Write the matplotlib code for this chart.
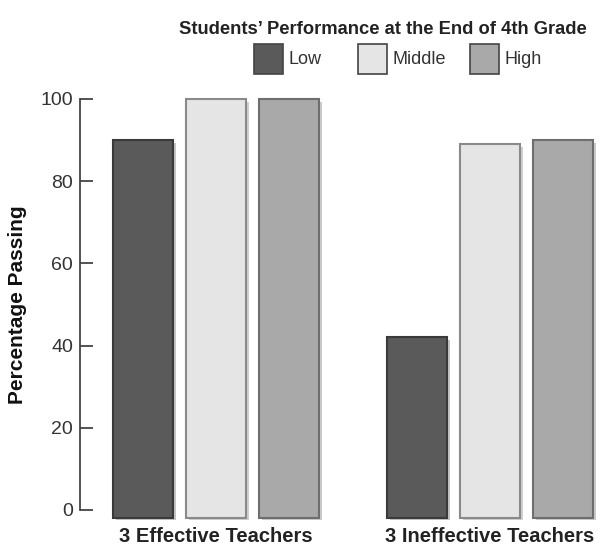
import numpy as np
import matplotlib
matplotlib.use("Agg")
import matplotlib.pyplot as plt
from matplotlib.patches import Rectangle
import matplotlib.patheffects as pe

plt.rcParams['font.family'] = ['Liberation Sans', 'DejaVu Sans']

groups = ["3 Effective Teachers", "3 Ineffective Teachers"]
levels = ["Low", "Middle", "High"]
low = [90, 42]
middle = [100, 89]
high = [100, 90]
yticks = [0, 20, 40, 60, 80, 100]

colors = ["#5a5a5a", "#e5e5e5", "#a9a9a9"]
edges = ["#3a3a3a", "#8a8a8a", "#6e6e6e"]

W, H = 603, 549
fig = plt.figure(figsize=(W / 100, H / 100), dpi=100)
# axes from x=80 to 603 px, y=90 to 520 px (top-origin)
ax = fig.add_axes([80 / W, 1 - 520 / H, (603 - 80) / W, (520 - 90) / H])

x = np.arange(len(groups))
unit = 273.5
width = 60 / unit
step = 73 / unit
shadow = [pe.SimplePatchShadow(offset=(2.5, -2), alpha=0.25), pe.Normal()]
for i, (vals, c, ec) in enumerate(zip([low, middle, high], colors, edges)):
    bars = ax.bar(x + (i - 1) * step, vals, width, bottom=-2, color=c,
                  edgecolor=ec, linewidth=1.5, zorder=2)
    for b in bars:
        b.set_path_effects(shadow)
        b.set_height(b.get_height() + 2)

ax.set_xlim((80 - 216) / unit, (603 - 216) / unit)
ax.set_ylim(-10 / 4.11, 100 + 9 / 4.11)

for s in ["top", "right", "bottom"]:
    ax.spines[s].set_visible(False)
ax.spines["left"].set_bounds(0, 100)
ax.spines["left"].set_color("#444444")
ax.spines["left"].set_linewidth(1.3)
ax.set_yticks(yticks)
ax.tick_params(axis="y", direction="in", length=9.5, width=1.3, color="#444444",
               labelsize=14, labelcolor="#333333", pad=5)
ax.set_xticks([])
ax.set_ylabel("Percentage Passing", fontsize=15, fontweight="bold", color="#111111")
ax.yaxis.set_label_coords(-53 / (603 - 80), 0.5)

for xi, g in zip(x, groups):
    ax.text(xi, -16 / 430, g, transform=ax.get_xaxis_transform(), ha="center",
            va="center", fontsize=14.5, fontweight="bold", color="#222222")

fig.text(383 / W, 1 - 29 / H, "Students\u2019 Performance at the End of 4th Grade",
         ha="center", va="center", fontsize=13.2, fontweight="bold", color="#222222")

box_x = [254, 358, 470]
for bx, lab, c, ec in zip(box_x, levels, colors, edges):
    fig.patches.append(Rectangle((bx / W, 1 - 74 / H), 29 / W, 30 / H,
                                 transform=fig.transFigure, facecolor=c,
                                 edgecolor="#444444", linewidth=1.2))
    fig.text((bx + 35) / W, 1 - 59 / H, lab, ha="left", va="center",
             fontsize=13, color="#333333")

fig.savefig("out.png", dpi=100)
